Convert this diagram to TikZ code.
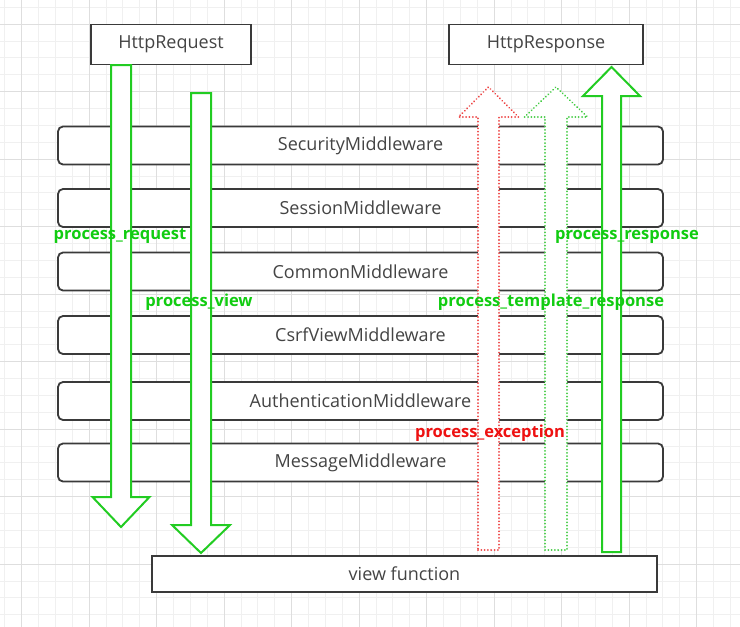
\documentclass[tikz,border=0pt]{standalone}
\usepackage{fontspec}
\setmainfont{Open Sans}
\definecolor{gridminor}{HTML}{F0F0F0}
\definecolor{gridmajor}{HTML}{DEDEDE}
\definecolor{boxline}{HTML}{3A3A3A}
\definecolor{boxtext}{HTML}{444444}
\definecolor{arrgreen}{HTML}{22CC22}
\definecolor{dotgreen}{HTML}{44CC44}
\definecolor{dotred}{HTML}{EE4444}
\definecolor{labgreen}{HTML}{11CC11}
\definecolor{labred}{HTML}{EE1111}
\newcommand\blkdown[6]{% cx, ytop, headbase, tip, shaft half, head half
  (#1-#5,#2) -- (#1+#5,#2) -- (#1+#5,#3) -- (#1+#6,#3) -- (#1,#4) -- (#1-#6,#3) -- (#1-#5,#3) -- cycle}
\begin{document}
\begin{tikzpicture}[x=1pt,y=-1pt,
  box/.style={draw=boxline, line width=1.8pt, fill=white, text=boxtext,
    font=\fontsize{18}{21}\selectfont, inner sep=0pt},
  mwbox/.style={box, rounded corners=5pt, minimum width=605pt, minimum height=38pt},
  sqbox/.style={box, minimum height=40pt},
  solidarrow/.style={draw=arrgreen, line width=2pt, fill=white, line join=miter},
  dotarrowg/.style={draw=dotgreen, line width=2pt, fill=white, line cap=round, dash pattern=on 0.01pt off 3.3pt},
  dotarrowr/.style={draw=dotred, line width=2pt, fill=white, line cap=round, dash pattern=on 0.01pt off 3.3pt},
  lab/.style={font=\bfseries\fontsize{16.5}{19}\selectfont, inner sep=0pt},
  minor/.style={draw=gridminor, line width=0.6pt},
  major/.style={draw=gridmajor, line width=0.8pt}]
\useasboundingbox (0,0) rectangle (740,627);
\fill[white] (0,0) rectangle (740,627);
% grid
\foreach \i in {0,...,43} {\draw[minor] ({4.625+\i*16.875},0) -- ({4.625+\i*16.875},627);}
\foreach \i in {0,...,37} {\draw[minor] (0,{7.125+\i*16.875}) -- (740,{7.125+\i*16.875});}
\foreach \i in {0,...,10} {\draw[major] ({21.5+\i*67.5},0) -- ({21.5+\i*67.5},627);}
\foreach \i in {0,...,9} {\draw[major] (0,{24+\i*67.5}) -- (740,{24+\i*67.5});}
% boxes
\node[sqbox, minimum width=160pt] (req) at (171,44.5) {HttpRequest};
\node[sqbox, minimum width=194pt] (resp) at (546,44.5) {HttpResponse};
\node[mwbox] (m1) at (360.5,145.5) {SecurityMiddleware};
\node[mwbox] (m2) at (360.5,208) {SessionMiddleware};
\node[mwbox] (m3) at (360.5,271.5) {CommonMiddleware};
\node[mwbox] (m4) at (360.5,335) {CsrfViewMiddleware};
\node[mwbox] (m5) at (360.5,401) {AuthenticationMiddleware};
\node[mwbox] (m6) at (360.5,462.5) {MessageMiddleware};
\node[box, minimum width=505pt, minimum height=36pt] (view) at (404.5,574) {view function};
% arrows
\draw[solidarrow] \blkdown{121}{65}{497}{527}{10}{28.5};
\draw[solidarrow] \blkdown{201}{93}{525}{553}{10}{29};
\draw[dotarrowr] \blkdown{488.5}{550}{117}{87}{10.5}{30};
\draw[dotarrowg] \blkdown{556}{550}{117}{87}{11}{31.5};
\draw[solidarrow] \blkdown{611.5}{552}{96}{67}{9.5}{28.5};
% labels
\node[lab, text=labgreen] (lreq) at (120,236) {process\_request};
\node[lab, text=labgreen] (lview) at (199,302) {process\_view};
\node[lab, text=labgreen] (lresp) at (627,237) {process\_response};
\node[lab, text=labgreen] (ltpl) at (551,302) {process\_template\_response};
\node[lab, text=labred] (lexc) at (490,433) {process\_exception};
\end{tikzpicture}
\end{document}
